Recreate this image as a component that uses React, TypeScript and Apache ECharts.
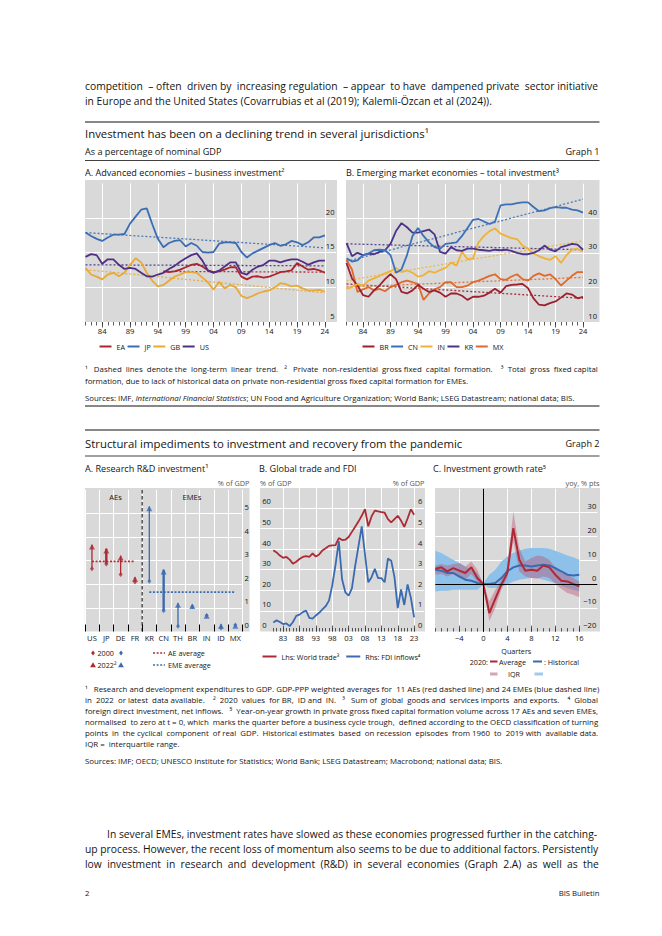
import React, { useEffect, useRef } from "react";
import * as echarts from "echarts";

const FONT = '"Open Sans", "Noto Sans", "DejaVu Sans", sans-serif';
const PAGE_W = 662;
const PAGE_H = 936;
const GRAY = "#d9d9d9";
const INK = "#141414";

/* ---------------- Graph 1, panel A: business investment, % of GDP ---------------- */
const A_FIRST_YEAR = 1981;
const A_LAST_YEAR = 2024;
const G1_LABEL_YEARS = [1984, 1989, 1994, 1999, 2004, 2009, 2014, 2019, 2024];
const G1A_Y_LABELS = [5, 10, 15, 20];
const JP_A = [17.9, 17.4, 17.0, 16.7, 17.2, 17.6, 17.6, 17.7, 19.2, 20.2, 21.2, 21.4, 19.1, 17.0, 15.8, 16.4, 16.7, 16.8, 15.9, 16.4, 16.0, 15.1, 15.0, 15.1, 16.3, 16.5, 16.5, 16.4, 15.1, 14.3, 14.9, 15.3, 15.7, 16.1, 16.4, 16.0, 16.2, 16.7, 16.5, 16.1, 16.5, 17.2, 17.2, 17.5];
const US_A = [14.4, 14.8, 14.65, 13.4, 14.05, 14.05, 13.25, 12.65, 12.8, 12.65, 12.1, 11.6, 11.55, 11.85, 12.1, 12.65, 13.1, 13.7, 14.2, 14.65, 14.9, 13.85, 12.4, 12.1, 12.4, 13.0, 13.6, 13.6, 12.1, 11.85, 12.55, 13.0, 13.25, 13.85, 13.85, 13.6, 13.85, 14.05, 14.05, 13.7, 13.25, 13.6, 13.85, 13.85];
const GB_A = [12.8, 11.85, 11.55, 11.15, 11.85, 12.1, 11.6, 12.1, 13.25, 14.2, 13.6, 12.1, 10.95, 10.15, 10.35, 10.95, 11.55, 11.85, 12.2, 12.2, 12.1, 11.4, 10.7, 9.65, 10.8, 9.85, 10.35, 10.0, 8.75, 8.45, 8.75, 9.15, 9.4, 9.55, 10.0, 10.6, 10.45, 10.15, 10.25, 9.85, 9.55, 9.55, 9.65, 9.4];
const EA_FIRST_YEAR = 1995;
const EA_A = [12.3, 12.2, 12.3, 12.55, 12.9, 13.25, 13.4, 13.0, 12.45, 12.2, 12.3, 12.55, 12.9, 12.9, 11.55, 11.15, 11.55, 11.6, 11.4, 11.55, 11.85, 12.2, 12.3, 12.45, 13.5, 13.0, 12.55, 12.65, 12.45, 12.1];
const EA_TREND = [12.3, 12.2];
const JP_TREND = [17.9, 15.7];
const GB_TREND = [12.55, 9.2];
const US_TREND = [13.25, 13.1];

/* ---------------- Graph 1, panel B: total investment, % of GDP ---------------- */
const B_FIRST_YEAR = 1981;
const G1B_Y_LABELS = [10, 20, 30, 40];
const BR_B = [27.05, 22.6, 20.55, 17.8, 17.3, 19.15, 20.55, 22.4, 23.8, 22.4, 18.7, 18.25, 19.15, 20.75, 19.6, 18.7, 19.15, 18.5, 17.3, 18.25, 18.25, 17.6, 16.4, 17.3, 17.3, 17.6, 18.5, 19.6, 18.5, 20.35, 20.75, 20.85, 21.0, 19.8, 16.85, 15.0, 14.8, 15.45, 15.95, 17.05, 18.25, 17.95, 16.85, 17.3];
const CN_B = [28.4, 27.5, 27.8, 29.35, 29.8, 30.75, 30.9, 30.75, 29.35, 24.25, 25.2, 29.35, 34.9, 37.2, 34.9, 33.05, 31.65, 31.2, 32.6, 32.8, 33.05, 34.9, 37.2, 39.55, 39.8, 39.05, 38.35, 39.05, 43.7, 44.0, 44.0, 44.35, 44.6, 44.6, 43.25, 42.05, 42.3, 42.95, 43.25, 43.05, 43.05, 42.5, 42.3, 41.65];
const IN_B = [19.6, 20.1, 21.0, 20.55, 21.95, 22.6, 23.35, 24.05, 24.7, 25.65, 24.45, 24.9, 24.25, 23.15, 23.5, 24.7, 24.25, 25.0, 25.65, 27.2, 26.3, 30.3, 28.15, 28.4, 33.05, 34.9, 36.3, 37.05, 35.55, 34.9, 34.25, 34.0, 32.1, 31.2, 29.8, 29.05, 28.4, 27.95, 29.05, 27.05, 29.35, 30.9, 31.2, 30.3];
const KR_B = [32.8, 29.05, 30.0, 29.35, 29.8, 29.6, 30.3, 30.75, 32.6, 36.3, 38.6, 37.4, 35.85, 35.85, 36.3, 36.75, 35.35, 30.3, 29.8, 31.65, 30.75, 30.55, 31.2, 31.2, 30.9, 30.75, 30.55, 30.9, 30.75, 30.9, 30.55, 30.0, 29.6, 29.6, 30.0, 30.75, 32.1, 30.9, 30.45, 31.65, 32.1, 32.6, 32.4, 30.9];
const MX_B = [27.95, 25.2, 18.7, 19.45, 20.1, 19.15, 19.6, 18.9, 20.1, 20.75, 21.5, 21.95, 21.5, 21.0, 16.4, 18.25, 19.45, 20.1, 21.5, 21.5, 20.1, 20.1, 20.55, 21.5, 21.95, 22.6, 23.35, 23.8, 22.4, 22.2, 23.15, 23.8, 22.4, 21.95, 23.35, 24.05, 23.35, 23.8, 22.4, 20.55, 21.95, 23.35, 24.45, 24.45];
const BR_TREND = [21.0, 16.85];
const CN_TREND = [27.5, 45.5];
const IN_TREND = [21.95, 33.5];
const KR_TREND = [32.6, 30.9];
const MX_TREND = [20.1, 22.9];

/* ---------------- Graph 2, panel A: R&D, % of GDP ---------------- */
const RD_CATS = ["US", "JP", "DE", "FR", "KR", "CN", "TH", "BR", "IN", "ID", "MX"];
const AE_COUNT = 4;
const RD_2000 = [2.66, 2.86, 2.41, 2.1, 2.13, 0.88, 0.22, 1.05, 0.68, 0.15, 0.28];
const RD_2022 = [3.68, 3.51, 3.21, 2.31, 5.3, 2.62, 1.21, 1.15, 0.74, 0.32, 0.32];
const RD_THICK = ["JP", "CN"];
const AE_AVG = 2.97;
const EME_AVG = 1.67;
const G2A_Y_LABELS = [0, 1, 2, 3, 4, 5];

/* ---------------- Graph 2, panel B: trade and FDI ---------------- */
const TRADE_FIRST_YEAR = 1980;
const G2B_LABEL_YEARS = [1983, 1988, 1993, 1998, 2003, 2008, 2013, 2018, 2023];
const G2B_LHS_LABELS = [0, 10, 20, 30, 40, 50, 60];
const G2B_RHS_LABELS = [0, 1, 2, 3, 4, 5, 6];
const WORLD_TRADE = [39.5, 38.4, 36.9, 35.8, 36.2, 34.9, 32.9, 33.9, 35.2, 36.2, 36.6, 36.3, 37.9, 36.4, 37.4, 39.4, 40.4, 41.6, 41.8, 42.0, 45.4, 44.4, 44.6, 45.9, 48.4, 50.9, 53.4, 56.2, 59.4, 51.1, 55.9, 58.7, 58.3, 58.0, 57.7, 54.6, 53.0, 54.6, 56.2, 53.9, 50.8, 54.9, 59.4, 56.7];
const FDI_INFLOWS = [0.44, 0.54, 0.46, 0.36, 0.39, 0.26, 0.46, 0.76, 0.82, 0.94, 1.02, 0.66, 0.62, 0.78, 0.91, 1.07, 1.23, 1.5, 2.24, 3.24, 4.39, 2.54, 1.9, 1.74, 2.09, 3.19, 4.14, 5.11, 3.74, 2.39, 2.64, 3.04, 2.59, 2.59, 2.39, 3.54, 3.44, 2.64, 1.14, 2.04, 1.29, 2.29, 1.64, 0.69];

/* ---------------- Graph 2, panel C: investment growth ---------------- */
const QUARTERS = [-8, -7, -6, -5, -4, -3, -2, -1, 0, 1, 2, 3, 4, 5, 6, 7, 8, 9, 10, 11, 12, 13, 14, 15, 16];
const G2C_LABEL_Q = [-4, 0, 4, 8, 12, 16];
const G2C_Y_LABELS = [-20, -10, 0, 10, 20, 30];
const AVG_2020 = [6.4, 7.0, 5.3, 6.7, 5.6, 4.6, 7.0, 2.5, 0, -12.2, -6.2, -0.3, 4.6, 23.5, 10.2, 5.6, 6.0, 5.6, 7.8, 7.0, 3.9, 1.4, 1.1, 0, -1.0];
const AVG_IQR_LO = [3.9, 4.2, 3.2, 4.2, 2.5, 1.8, 4.2, 0.8, 0, -15.7, -10.1, -2.4, 2.5, 17.9, 5.3, 3.2, 2.5, 2.2, 3.2, 2.5, 0, -2.0, -3.8, -4.5, -5.6];
const AVG_IQR_HI = [7.8, 8.4, 7.8, 8.4, 8.8, 7.4, 9.5, 6.0, 0, -7.3, -2.4, 1.8, 7.0, 30.5, 15.1, 9.5, 10.9, 12.0, 11.6, 10.2, 7.0, 4.6, 3.9, 2.5, 1.1];
const HIST = [6.0, 5.6, 4.6, 4.6, 3.2, 1.8, 1.4, 0.4, 0, 0, 0.4, 2.5, 5.3, 7.0, 7.8, 7.8, 7.4, 7.8, 8.1, 7.8, 6.7, 5.3, 3.9, 3.6, 3.9];
const HIST_IQR_LO = [-3.1, -2.8, -2.8, -2.4, -2.4, -2.4, -2.4, -2.4, -0.3, -1.7, -1.7, -1.0, -0.3, 1.1, 1.8, 2.2, 2.5, 2.5, 1.8, 1.1, 0.4, -0.6, -1.7, -2.4, -3.1];
const HIST_IQR_HI = [14.0, 13.0, 11.6, 10.2, 8.8, 7.4, 6.0, 4.6, 0.3, 3.9, 6.0, 9.5, 11.6, 13.0, 14.0, 14.8, 15.1, 15.1, 15.1, 14.8, 14.0, 13.0, 12.0, 11.2, 10.2];

/* ---------------- texts ---------------- */
const PROSE_TOP = [
  "competition – often driven by increasing regulation – appear to have dampened private sector initiative",
  "in Europe and the United States (Covarrubias et al (2019); Kalemli-Özcan et al (2024)).",
];
const PROSE_BOTTOM = [
  "In several EMEs, investment rates have slowed as these economies progressed further in the catching-",
  "up process. However, the recent loss of momentum also seems to be due to additional factors. Persistently",
  "low investment in research and development (R&D) in several economies (Graph 2.A) as well as the",
];
const G1_NOTES = [
  "¹  Dashed lines denote the long-term linear trend.   ²  Private non-residential gross fixed capital formation.   ³  Total gross fixed capital",
  "formation, due to lack of historical data on private non-residential gross fixed capital formation for EMEs.",
];
const G1_SOURCES = "Sources: IMF, {i|International Financial Statistics}; UN Food and Agriculture Organization; World Bank; LSEG Datastream; national data; BIS.";
const G2_NOTES = [
  "¹  Research and development expenditures to GDP. GDP-PPP weighted averages for 11 AEs (red dashed line) and 24 EMEs (blue dashed line)",
  "in 2022 or latest data available.   ²  2020 values for BR, ID and IN.   ³  Sum of global goods and services imports and exports.   ⁴  Global",
  "foreign direct investment, net inflows.   ⁵  Year-on-year growth in private gross fixed capital formation volume across 17 AEs and seven EMEs,",
  "normalised to zero at t = 0, which marks the quarter before a business cycle trough, defined according to the OECD classification of turning",
  "points in the cyclical component of real GDP. Historical estimates based on recession episodes from 1960 to 2019 with available data.",
  "IQR =  interquartile range.",
];
const G2_SOURCES = "Sources: IMF; OECD; UNESCO Institute for Statistics; World Bank; LSEG Datastream; Macrobond; national data; BIS.";

/* ---------------- colours ---------------- */
const C_EA = "#ad2431";
const C_JP = "#3a6db4";
const C_GB = "#e8a935";
const C_US = "#4e2f83";
const C_BR = "#9e1f2e";
const C_CN = "#3b71b8";
const C_IN = "#efb236";
const C_KR = "#4c3389";
const C_MX = "#e0692b";
const C_RED = "#ad2a35";
const C_BLUE = "#3a6bb0";

/* ---------------- helpers ---------------- */
const range = (a: number, b: number) => {
  const r: number[] = [];
  for (let i = a; i <= b; i++) r.push(i);
  return r;
};
const pairs = (start: number, vals: number[]) => vals.map((v, i) => [String(start + i), v]);
const minusFmt = (v: number | string) => {
  const n = Number(v);
  return n < 0 ? "\u2212" + Math.abs(n) : String(n);
};
let mctx: any = null;
const measure = (text: string, px: number) => {
  if (!mctx) mctx = document.createElement("canvas").getContext("2d");
  mctx.font = `${px}px ${FONT}`;
  return mctx.measureText(text).width;
};
const fit = (lines: string[], width: number) =>
  Math.min(...lines.map((l) => (100 * width) / measure(l.replace(/\{i\|([^}]*)\}/g, "$1"), 100)));

// widen the word gaps of a line so that it reaches the given width (justified look)
const justify = (line: string, width: number, size: number) => {
  const natural = measure(line, size);
  const sp = measure("a a", size) - measure("aa", size);
  const tokens = line.split(/( +)/);
  const gapIdx: number[] = [];
  tokens.forEach((t, i) => {
    if (/^ +$/.test(t)) gapIdx.push(i);
  });
  if (!gapIdx.length || sp <= 0) return line;
  let extra = Math.max(0, Math.floor((width - natural) / sp));
  const per = Math.floor(extra / gapIdx.length);
  let rest = extra - per * gapIdx.length;
  const step = rest > 0 ? gapIdx.length / rest : 0;
  const bonus = new Set<number>();
  for (let k = 0; k < rest; k++) bonus.add(gapIdx[Math.floor(k * step)]);
  return tokens.map((t, i) => (gapIdx.includes(i) ? t + " ".repeat(per + (bonus.has(i) ? 1 : 0)) : t)).join("");
};

function buildOption(): any {
  const P = Math.min(fit([PROSE_TOP[0], PROSE_BOTTOM[1], PROSE_BOTTOM[2]], 514), fit([PROSE_BOTTOM[0]], 492));
  const F = fit([G1_NOTES[0], ...G2_NOTES.slice(0, 5)], 514);
  const TITLE = P * 1.1;
  const SUB = P * 0.88;
  const AXF = 7.6;
  const LGF = 7.2;

  const AX = { fontFamily: FONT, fontSize: AXF, color: INK };

  const text = (x: number, y: number, t: string, size: number, align = "left", extra: any = {}) => ({
    type: "text",
    x,
    y,
    z: 20,
    silent: true,
    style: {
      text: t,
      fontSize: size,
      fontFamily: FONT,
      fill: INK,
      textAlign: align,
      align,
      textVerticalAlign: "middle",
      verticalAlign: "middle",
      ...extra,
    },
  });
  const jtext = (x: number, y: number, t: string, size: number) => text(x, y, justify(t, 599.5 - x, size), size);
  const rule = (y: number, w = 1) => ({
    type: "line",
    silent: true,
    shape: { x1: 85, y1: y, x2: 599.5, y2: y },
    style: { stroke: "#111", lineWidth: w },
  });
  const grayRect = (x: number, y: number, width: number, height: number) => ({
    type: "rect",
    z: -10,
    silent: true,
    shape: { x, y, width, height },
    style: { fill: GRAY },
  });
  const seg = (x1: number, x2: number, y: number, color: string, w: number, dash: any = null) => ({
    type: "line",
    silent: true,
    z: 20,
    shape: { x1, y1: y, x2, y2: y },
    style: { stroke: color, lineWidth: w, lineDash: dash },
  });
  const diamond = (cx: number, cy: number, color: string) => ({
    type: "polygon",
    silent: true,
    z: 20,
    shape: { points: [[cx, cy - 2.4], [cx + 1.9, cy], [cx, cy + 2.4], [cx - 1.9, cy]] },
    style: { fill: color },
  });
  const tri = (cx: number, cy: number, color: string) => ({
    type: "polygon",
    silent: true,
    z: 20,
    shape: { points: [[cx, cy - 2.8], [cx + 2.9, cy + 2.2], [cx - 2.9, cy + 2.2]] },
    style: { fill: color },
  });

  const graphic: any[] = [
    grayRect(85, 180, 252, 142),
    grayRect(346, 180, 253.5, 142),
    grayRect(84.8, 488, 164.7, 143.5),
    grayRect(260, 488, 165, 143.5),
    grayRect(435, 488, 165, 143.6),

    jtext(85, 86, PROSE_TOP[0], P),
    text(85, 101, PROSE_TOP[1], P),
    rule(122, 1),
    text(85, 133, "Investment has been on a declining trend in several jurisdictions¹", TITLE),
    text(85, 151.5, "As a percentage of nominal GDP", SUB),
    text(599.5, 151.5, "Graph 1", SUB, "right"),
    rule(160.5, 0.8),
    text(85, 172, "A. Advanced economies – business investment²", SUB),
    text(346, 172, "B. Emerging market economies – total investment³", SUB),

    jtext(85, 369, G1_NOTES[0], F),
    text(85, 381, G1_NOTES[1], F),
    text(85, 397.5, G1_SOURCES, F, "left", {
      rich: { i: { fontStyle: "italic", fontSize: F, fontFamily: FONT, fill: INK } },
    }),
    rule(406, 1),

    rule(430, 1),
    text(85, 443, "Structural impediments to investment and recovery from the pandemic", TITLE),
    text(599.5, 443, "Graph 2", SUB, "right"),
    rule(456, 0.8),
    text(85, 468, "A. Research R&D investment¹", SUB),
    text(259, 468, "B. Global trade and FDI", SUB),
    text(433, 468, "C. Investment growth rate⁵", SUB),
    text(249.5, 482.5, "% of GDP", 7.3, "right", { fill: "#555" }),
    text(260, 482.5, "% of GDP", 7.3, "left", { fill: "#555" }),
    text(424.5, 482.5, "% of GDP", 7.3, "right", { fill: "#555" }),
    text(599.5, 482.5, "yoy, % pts", 7.3, "right", { fill: "#555" }),
    text(115.5, 496.5, "AEs", AXF, "center"),
    text(192, 496.5, "EMEs", AXF, "center"),

    // legend of panel 2A
    diamond(93, 653, C_RED),
    text(97.5, 653, "2000", LGF),
    diamond(121, 653, C_BLUE),
    tri(93, 665, C_RED),
    text(97.5, 665, "2022²", LGF),
    tri(121, 665, C_BLUE),
    seg(153, 165, 653, C_RED, 1.6, [2, 1.6]),
    text(168, 653, "AE average", LGF),
    seg(153, 165, 665, C_BLUE, 1.6, [2, 1.6]),
    text(168, 665, "EME average", LGF),

    // legend of panel 2C
    text(488, 661.5, "2020:", LGF, "right"),
    seg(490, 497.5, 661.5, C_RED, 2),
    text(499, 661.5, "Average", LGF),
    seg(533, 542, 661.5, C_BLUE, 2),
    text(544, 661.5, ": Historical", LGF),
    seg(490, 497.5, 674, "#d3a5b5", 3),
    text(508, 674, "IQR", LGF),
    seg(534.5, 543, 674, "#9fcbee", 3),

    ...G2_NOTES.map((l, i) => (i < 5 ? jtext(85, 689 + i * 11, l, F) : text(85, 689 + i * 11, l, F))),
    text(85, 761, G2_SOURCES, F),

    jtext(107, 834, PROSE_BOTTOM[0], P),
    jtext(85, 849, PROSE_BOTTOM[1], P),
    jtext(85, 864, PROSE_BOTTOM[2], P),
    text(85, 893, "2", P * 0.75),
    text(599.5, 893, "BIS Bulletin", P * 0.75, "right"),
  ];

  const catsA = range(A_FIRST_YEAR, 2026).map(String);
  const catsB = range(B_FIRST_YEAR, 2027).map(String);
  const cats2B = range(1976, 2026).map(String);
  const cats2C = range(-8, 19).map(String);

  const yearAxis = (gridIndex: number, data: string[], labelYears: number[], lastTick: number, firstTick: number, inside: boolean, margin: number) => [
    {
      type: "category",
      gridIndex,
      data,
      boundaryGap: false,
      position: "bottom",
      axisLine: { show: false, onZero: false },
      axisTick: {
        show: true,
        inside,
        length: 3.5,
        interval: (_i: number, v: string) => +v >= firstTick && +v <= lastTick,
        lineStyle: { color: "#333", width: 0.8 },
      },
      axisLabel: {
        ...AX,
        margin,
        interval: (_i: number, v: string) => labelYears.includes(+v),
        formatter: (v: string) => (Math.abs(+v) >= 1000 ? v.slice(2) : minusFmt(v)),
      },
      splitLine: {
        show: true,
        interval: (_i: number, v: string) => labelYears.includes(+v) && +v !== 0,
        lineStyle: { color: "#fff", width: 1 },
      },
    },
    {
      type: "category",
      gridIndex,
      data,
      boundaryGap: false,
      position: "bottom",
      axisLine: { show: false, onZero: false },
      axisLabel: { show: false },
      splitLine: { show: false },
      axisTick: {
        show: true,
        inside,
        length: inside ? 6 : 5.5,
        interval: (_i: number, v: string) => labelYears.includes(+v),
        lineStyle: { color: "#333", width: 0.8 },
      },
    },
  ];

  const yLabel = (labels: number[], inside: boolean, margin: number) => ({
    ...AX,
    inside,
    margin,
    verticalAlign: "bottom",
    lineHeight: 13,
    formatter: (v: number) => (labels.includes(Math.round(v * 1000) / 1000) ? minusFmt(v) : ""),
  });
  const ySplit = { show: true, showMinLine: false, showMaxLine: false, lineStyle: { color: "#fff", width: 1 } };
  const valueY = (gridIndex: number, position: string, min: number, max: number, interval: number, labels: number[], inside: boolean, margin: number, split = true) => ({
    type: "value",
    gridIndex,
    position,
    min,
    max,
    interval,
    axisLine: { show: false, onZero: false },
    axisTick: { show: false },
    axisLabel: yLabel(labels, inside, margin),
    splitLine: split ? ySplit : { show: false },
  });

  const line = (name: string, xi: number, yi: number, data: any[], color: string, width = 1.8, extra: any = {}) => ({
    type: "line",
    name,
    xAxisIndex: xi,
    yAxisIndex: yi,
    data,
    color,
    itemStyle: { color },
    lineStyle: { color, width },
    symbol: "none",
    showSymbol: false,
    silent: true,
    z: 3,
    ...extra,
  });
  const trend = (name: string, xi: number, yi: number, y0: number, y1: number, vals: number[], color: string) =>
    line(name, xi, yi, [[String(y0), vals[0]], [String(y1), vals[1]]], color, 1.3, {
      lineStyle: { color, width: 1.3, type: [2, 2], opacity: 0.9 },
      z: 2,
    });

  const rdData = RD_CATS.map((c, i) => [i, RD_2000[i], RD_2022[i]]);

  const legendCommon = {
    orient: "horizontal",
    icon: "rect",
    itemWidth: 12,
    itemHeight: 2,
    itemGap: 2.5,
    padding: 0,
    selectedMode: false,
    textStyle: { fontFamily: FONT, fontSize: LGF, color: INK },
  };

  return {
    animation: false,
    textStyle: { fontFamily: FONT },
    graphic: { elements: graphic },
    legend: [
      { ...legendCommon, data: ["EA", "JP", "GB", "US"], left: 99.5, top: 343 },
      { ...legendCommon, data: ["BR", "CN", "IN", "KR", "MX"], left: 362.5, top: 343, itemGap: 2.5 },
      { ...legendCommon, data: ["Lhs: World trade³", "Rhs: FDI inflows⁴"], left: 262.5, top: 653, itemWidth: 14, itemGap: 7 },
    ],
    grid: [
      { left: 85.5, top: 183.4, width: 250.5, height: 138.6, containLabel: false, outerBoundsMode: "none" },
      { left: 346.5, top: 183.7, width: 253, height: 138.3, containLabel: false, outerBoundsMode: "none" },
      { left: 84.8, top: 489.9, width: 157.7, height: 141.6, containLabel: false, outerBoundsMode: "none" },
      { left: 260.2, top: 487.4, width: 163.75, height: 144.1, containLabel: false, outerBoundsMode: "none" },
      { left: 435.3, top: 488.8, width: 162, height: 142.8, containLabel: false, outerBoundsMode: "none" },
    ],
    xAxis: [
      ...yearAxis(0, catsA, G1_LABEL_YEARS, A_LAST_YEAR, A_FIRST_YEAR, false, 5),
      ...yearAxis(1, catsB, G1_LABEL_YEARS, A_LAST_YEAR, B_FIRST_YEAR, false, 5),
      {
        type: "category",
        gridIndex: 2,
        data: RD_CATS,
        boundaryGap: true,
        position: "bottom",
        axisLine: { show: false, onZero: false },
        axisTick: { show: true, inside: true, length: 7, lineStyle: { color: "#000", width: 1 } },
        axisLabel: { ...AX, margin: 2.5, interval: 0 },
        splitLine: { show: true, lineStyle: { color: "#fff", width: 1 } },
      },
      { type: "value", gridIndex: 2, min: 0, max: RD_CATS.length, show: false, position: "top" },
      ...yearAxis(3, cats2B, G2B_LABEL_YEARS, 2023, TRADE_FIRST_YEAR, true, 2.5),
      ...yearAxis(4, cats2C, G2C_LABEL_Q, QUARTERS[QUARTERS.length - 1], QUARTERS[0], true, 2.5).map((a: any, i: number) =>
        i === 0 ? { ...a, name: "Quarters", nameLocation: "middle", nameGap: 16, nameTextStyle: { ...AX, fontSize: LGF } } : a
      ),
    ],
    yAxis: [
      valueY(0, "right", 5, 25, 5, G1A_Y_LABELS, true, 1.5),
      valueY(1, "right", 10, 50, 10, G1B_Y_LABELS, true, 2.5),
      valueY(2, "right", 0, 6, 1, G2A_Y_LABELS, false, 2),
      valueY(3, "left", 0, 70, 10, G2B_LHS_LABELS, true, 2),
      valueY(3, "right", 0, 7, 1, G2B_RHS_LABELS, true, 1.5, false),
      valueY(4, "right", -20, 40, 10, G2C_Y_LABELS, true, 1),
    ],
    series: [
      /* Graph 1A */
      trend("EA trend", 0, 0, EA_FIRST_YEAR, A_LAST_YEAR, EA_TREND, C_EA),
      trend("JP trend", 0, 0, A_FIRST_YEAR, A_LAST_YEAR, JP_TREND, C_JP),
      trend("GB trend", 0, 0, A_FIRST_YEAR, A_LAST_YEAR, GB_TREND, C_GB),
      trend("US trend", 0, 0, A_FIRST_YEAR, A_LAST_YEAR, US_TREND, C_US),
      line("GB", 0, 0, pairs(A_FIRST_YEAR, GB_A), C_GB),
      line("EA", 0, 0, pairs(EA_FIRST_YEAR, EA_A), C_EA),
      line("US", 0, 0, pairs(A_FIRST_YEAR, US_A), C_US),
      line("JP", 0, 0, pairs(A_FIRST_YEAR, JP_A), C_JP),

      /* Graph 1B */
      trend("BR trend", 2, 1, B_FIRST_YEAR, A_LAST_YEAR, BR_TREND, C_BR),
      trend("CN trend", 2, 1, B_FIRST_YEAR, A_LAST_YEAR, CN_TREND, C_CN),
      trend("IN trend", 2, 1, B_FIRST_YEAR, A_LAST_YEAR, IN_TREND, C_IN),
      trend("KR trend", 2, 1, B_FIRST_YEAR, A_LAST_YEAR, KR_TREND, C_KR),
      trend("MX trend", 2, 1, B_FIRST_YEAR, A_LAST_YEAR, MX_TREND, C_MX),
      line("MX", 2, 1, pairs(B_FIRST_YEAR, MX_B), C_MX),
      line("BR", 2, 1, pairs(B_FIRST_YEAR, BR_B), C_BR),
      line("IN", 2, 1, pairs(B_FIRST_YEAR, IN_B), C_IN),
      line("KR", 2, 1, pairs(B_FIRST_YEAR, KR_B), C_KR),
      line("CN", 2, 1, pairs(B_FIRST_YEAR, CN_B), C_CN),

      /* Graph 2A */
      line("AE average", 4, 2, [[RD_CATS[0], AE_AVG], [RD_CATS[AE_COUNT - 1], AE_AVG]], C_RED, 1.6, {
        lineStyle: { color: C_RED, width: 1.6, type: [2, 1.6] },
      }),
      line("EME average", 4, 2, [[RD_CATS[AE_COUNT], EME_AVG], [RD_CATS[RD_CATS.length - 1], EME_AVG]], C_BLUE, 1.6, {
        lineStyle: { color: C_BLUE, width: 1.6, type: [2, 1.6] },
      }),
      line("AE/EME divider", 5, 2, [[AE_COUNT, 0], [AE_COUNT, 6]], "#000", 1, {
        lineStyle: { color: "#000", width: 1, type: [3.5, 2.5] },
      }),
      {
        type: "custom",
        name: "R&D change",
        xAxisIndex: 4,
        yAxisIndex: 2,
        data: rdData,
        encode: { x: 0, y: [1, 2] },
        silent: true,
        z: 3,
        renderItem: (_p: any, api: any) => {
          const i = api.value(0);
          const a = api.coord([i, api.value(1)]);
          const b = api.coord([i, api.value(2)]);
          const ae = i < AE_COUNT;
          return {
            type: "line",
            shape: { x1: a[0], y1: a[1], x2: b[0], y2: b[1] },
            style: { stroke: ae ? C_RED : C_BLUE, lineWidth: RD_THICK.includes(RD_CATS[i]) ? 2.4 : 1.3 },
          };
        },
      },
      {
        type: "scatter",
        name: "2000 (AEs)",
        xAxisIndex: 4,
        yAxisIndex: 2,
        data: RD_CATS.slice(0, AE_COUNT).map((c, i) => [c, RD_2000[i]]),
        symbol: "diamond",
        symbolSize: [4, 5],
        itemStyle: { color: C_RED },
        silent: true,
        z: 4,
      },
      {
        type: "scatter",
        name: "2000 (EMEs)",
        xAxisIndex: 4,
        yAxisIndex: 2,
        data: RD_CATS.slice(AE_COUNT).map((c, i) => [c, RD_2000[i + AE_COUNT]]),
        symbol: "diamond",
        symbolSize: [4, 5],
        itemStyle: { color: C_BLUE },
        silent: true,
        z: 4,
      },
      {
        type: "scatter",
        name: "2022 (AEs)",
        xAxisIndex: 4,
        yAxisIndex: 2,
        data: RD_CATS.slice(0, AE_COUNT).map((c, i) => [c, RD_2022[i]]),
        symbol: "triangle",
        symbolSize: [6, 5.5],
        symbolOffset: [0, 2],
        itemStyle: { color: C_RED },
        silent: true,
        z: 4,
      },
      {
        type: "scatter",
        name: "2022 (EMEs)",
        xAxisIndex: 4,
        yAxisIndex: 2,
        data: RD_CATS.slice(AE_COUNT).map((c, i) => [c, RD_2022[i + AE_COUNT]]),
        symbol: "triangle",
        symbolSize: [6, 5.5],
        symbolOffset: [0, 2],
        itemStyle: { color: C_BLUE },
        silent: true,
        z: 4,
      },

      /* Graph 2B */
      line("Lhs: World trade³", 6, 3, pairs(TRADE_FIRST_YEAR, WORLD_TRADE), C_RED, 1.8),
      line("Rhs: FDI inflows⁴", 6, 4, pairs(TRADE_FIRST_YEAR, FDI_INFLOWS), C_BLUE, 1.8),

      /* Graph 2C */
      line("Historical IQR base", 8, 5, HIST_IQR_LO, "#9fcbee", 0, {
        stack: "hist",
        stackStrategy: "all",
        lineStyle: { width: 0, opacity: 0 },
        z: 1,
      }),
      line("Historical IQR", 8, 5, HIST_IQR_HI.map((h, i) => +(h - HIST_IQR_LO[i]).toFixed(2)), "#8ec1ea", 0, {
        stack: "hist",
        stackStrategy: "all",
        lineStyle: { width: 0, opacity: 0 },
        areaStyle: { color: "#8ec1ea", opacity: 1 },
        z: 1,
      }),
      line("Average IQR base", 8, 5, AVG_IQR_LO, "#d3a5b5", 0, {
        stack: "avg",
        stackStrategy: "all",
        lineStyle: { width: 0, opacity: 0 },
        z: 1,
      }),
      line("Average IQR", 8, 5, AVG_IQR_HI.map((h, i) => +(h - AVG_IQR_LO[i]).toFixed(2)), "#be4664", 0, {
        stack: "avg",
        stackStrategy: "all",
        lineStyle: { width: 0, opacity: 0 },
        areaStyle: { color: "rgba(190, 70, 100, 0.38)", opacity: 1 },
        z: 1,
      }),
      line("Historical", 8, 5, HIST, C_BLUE, 2),
      line("Average", 8, 5, AVG_2020, C_RED, 2, {
        markLine: {
          silent: true,
          symbol: ["none", "none"],
          label: { show: false },
          lineStyle: { color: "#000", width: 1, type: "solid" },
          data: [{ yAxis: 0 }, { xAxis: cats2C.indexOf("0") }],
        },
      }),
    ],
  };
}

export default function App() {
  const ref = useRef<HTMLDivElement>(null);
  useEffect(() => {
    document.body.style.margin = "0";
    const chart = echarts.init(ref.current as HTMLDivElement, undefined, {
      renderer: "svg",
      width: PAGE_W,
      height: PAGE_H,
    });
    chart.setOption(buildOption());
    return () => chart.dispose();
  }, []);
  return <div ref={ref} style={{ width: PAGE_W, height: PAGE_H, background: "#fff" }} />;
}
